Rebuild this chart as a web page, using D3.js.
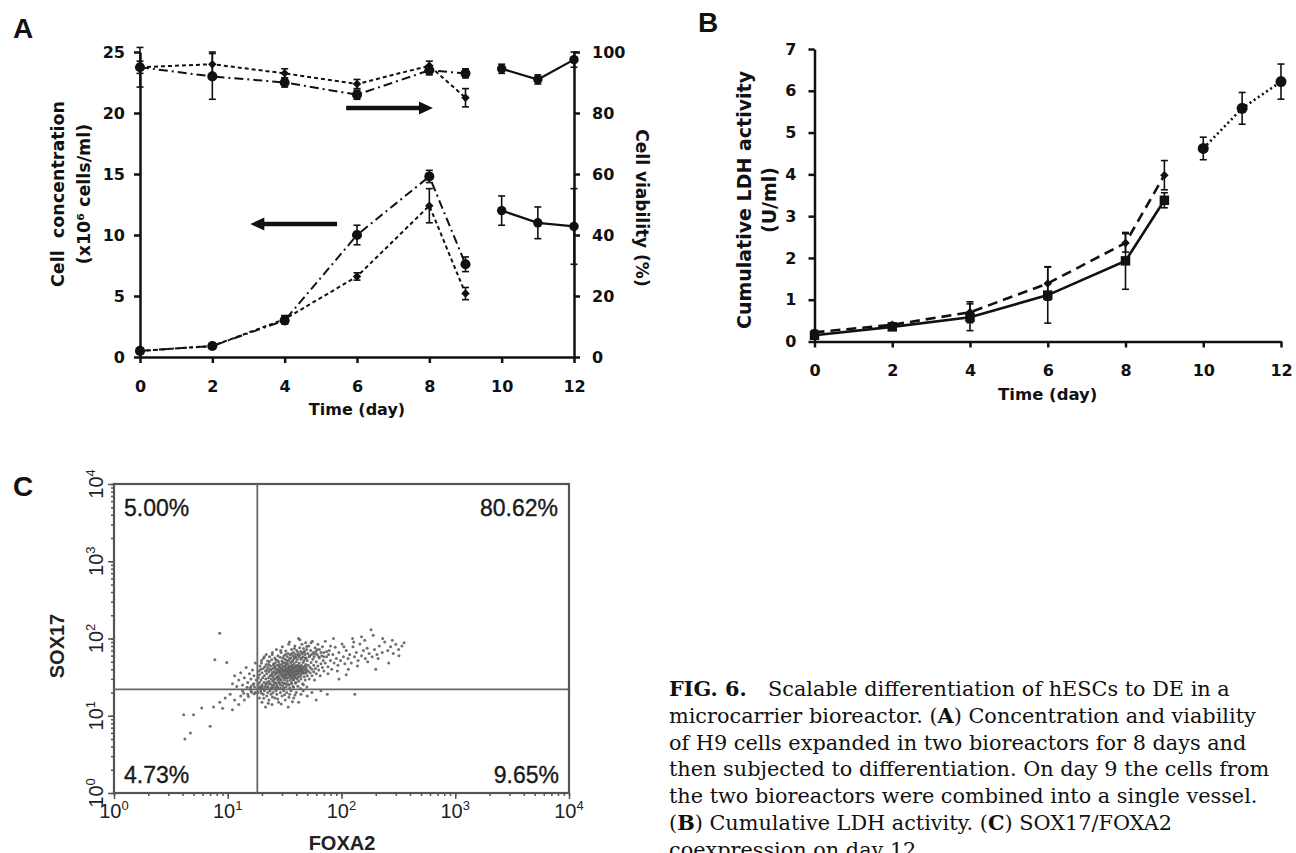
<!DOCTYPE html>
<html>
<head>
<meta charset="utf-8">
<script src="https://d3js.org/d3.v7.min.js"></script>
<style>
  body { margin: 0; background: #fff; }
  .axis path, .axis line { stroke: #111; stroke-width: 2.5; }
  .axis text { font-family: "DejaVu Sans", sans-serif; font-weight: bold; font-size: 16px; fill: #111; }
  .title { font-family: "DejaVu Sans", sans-serif; font-weight: bold; fill: #111; }
  .letter { font-family: "Liberation Sans", Arial, sans-serif; font-weight: bold; font-size: 28px; fill: #111; }
  .flow line { stroke: #555; stroke-width: 1.5; }
  .flow path.domain { display: none; }
  .logtick { font-family: "Liberation Sans Narrow", "Liberation Sans", sans-serif; font-size: 20px; fill: #222; }
  .quad { font-family: "Liberation Sans", Arial, sans-serif; font-size: 23px; fill: #1a1a1a; stroke: #1a1a1a; stroke-width: 0.35; }
  .caption { font-family: "DejaVu Serif", serif; font-size: 20.8px; fill: #111; }
</style>
</head>
<body>
<script>

// ---------- Panel A : cell concentration (left axis) and viability (right axis) ----------
var daysA = [0, 2, 4, 6, 8, 9];
var concDashDot    = [0.5, 0.9, 3.0, 10.0, 14.8, 7.6];
var concDashDotErr = [0.2, 0.2, 0.3, 0.8, 0.5, 0.6];
var concDash       = [0.5, 0.9, 3.1, 6.6, 12.4, 5.2];
var concDashErr    = [0.2, 0.2, 0.3, 0.3, 1.4, 0.5];
var viabDashDot    = [95, 92, 90, 86, 94, 93];
var viabDashDotErr = [6.5, 7.5, 1.5, 1.5, 1.5, 1.5];
var viabDash       = [95, 96, 93, 89.5, 95.5, 85];
var viabDashErr    = [2, 4, 1.5, 1.5, 1.5, 3];
var daysPooled     = [10, 11, 12];
var concPooled     = [12.0, 11.0, 10.7];
var concPooledErr  = [1.2, 1.3, 3.1];
var viabPooled     = [94.5, 91, 97.5];
var viabPooledErr  = [1.5, 1.5, 2.5];
// arrows: [from day, to day, concentration level]
var arrowsA = [[5.7, 8.1, 20.4], [5.45, 3.05, 10.9]];

var ticksConc = [0, 5, 10, 15, 20, 25];
var ticksViab = [0, 20, 40, 60, 80, 100];
var ticksDay  = [0, 2, 4, 6, 8, 10, 12];

// ---------- Panel B : cumulative LDH ----------
var daysB = [0, 2, 4, 6, 8, 9];
var ldhSolid     = [0.15, 0.35, 0.58, 1.11, 1.93, 3.38];
var ldhSolidErr  = [0.05, 0.05, 0.32, 0.67, 0.68, 0.18];
var ldhDashed    = [0.22, 0.40, 0.70, 1.39, 2.36, 3.98];
var ldhDashedErr = [0.05, 0.05, 0.25, 0.40, 0.22, 0.35];
var daysB2 = [10, 11, 12];
var ldhDotted    = [4.62, 5.58, 6.22];
var ldhDottedErr = [0.27, 0.38, 0.42];
var ticksLdh = [0, 1, 2, 3, 4, 5, 6, 7];

// ---------- Panel C : SOX17 / FOXA2 flow cytometry ----------
var decades = [1, 10, 100, 1000, 10000];
var gateFoxa2 = 18.2, gateSox17 = 22;
var quadLabels = ["5.00%", "80.62%", "4.73%", "9.65%"];
// [FOXA2, SOX17] events
var cells = [
  [18.5,25],[18.6,31],[18.8,38],[19,27],[19,34],[19.2,44],[19.5,23],[19.6,29],[19.8,52],[20,36],[20,25],[20.3,31],[20.5,41],[20.8,27],[21,33],[21,58],[21.3,24],[21.5,38],[21.6,30],[21.8,46],[22,27],[22,35],
  [22.5,42],[22.6,24],[22.8,31],[23,37],[23,28],[23.2,50],[23.5,33],[23.6,26],[23.8,44],[24,30],[24,39],[24.2,23],[24.5,35],[24.6,62],[24.8,28],[25,41],[25,32],[25.3,47],[25.5,25],[25.6,37],[25.8,30],[26,43],[26,34],[26.3,27],[26.5,53],[26.6,39],[26.8,31],[27,36],[27,24],[27.2,45],
  [27.5,29],[27.6,40],[27.8,33],[28,50],[28,27],[28.2,37],[28.5,31],[28.6,43],[28.8,35],[29,25],[29,39],[29.2,70],[29.5,29],[29.6,46],[29.8,33],[30,37],[30,41],[30.3,27],[30.5,56],[30.6,31],[30.8,44],[31,35],[31,23],[31.3,39],[31.5,48],[31.6,29],[31.8,33],[32,42],[32,37],[32.3,62],[32.5,26],[32.6,45],[32.8,31],[33,38],[33,52],[33.3,34],
  [33.5,28],[33.6,41],[33.8,47],[34,36],[34,31],[34.3,84],[34.5,39],[34.6,25],[34.8,44],[35,33],[35,55],[35.3,37],[35.5,29],[35.6,42],[35.8,49],[36,34],[36,38],[36.3,27],[36.5,64],[36.6,45],[36.8,31],[37,40],[37,36],[37.3,52],[37.5,24],[37.6,33],[37.8,43],[38,38],[38,29],[38.3,47],[38.5,35],[38.6,74],[38.8,41],[39,31],[39,57],[39.3,37],[39.5,44],[39.6,27],[39.8,34],[40,50],
  [40.5,39],[40.8,30],[41,45],[41,35],[41.5,61],[41.8,41],[42,28],[42,37],[42.5,48],[42.8,33],[43,43],[43,96],[43.5,38],[44,30],[44,54],[44.5,45],[45,35],[45,40],[45.5,26],[46,49],[46,37],[46.5,67],[47,32],[47,43],[47.5,39],[48,56],[48,29],[48.5,46],[49,36],[49,41],[49.5,79],[50,33],[50,52],
  [51,38],[51,45],[52,30],[52,58],[53,42],[53,36],[54,49],[54,88],[55,33],[55,40],[56,54],[57,37],[57,45],[58,29],[58,63],[59,41],[60,50],[60,35],[61,72],[62,44],[63,39],[64,56],[65,33],[66,47],[67,60],[68,42],[69,52],[70,38],[70,66],
  [19.5,40],[19.8,48],[20.2,22.5],[20.6,55],[21.2,43],[21.8,62],[22.2,39],[22.4,51],[22.9,46],[23.3,58],[23.7,40],[24.3,53],[24.7,66],[25.2,45],[25.9,56],[26.2,48],[26.8,72],[27.3,52],[27.6,60],[28.3,46],[28.9,57],[29.4,66],[29.9,51],[30.2,78],[30.7,49],[31.2,60],[31.9,54],[32.4,69],[32.9,48],[33.4,58],[33.9,64],[34.4,52],[34.9,90],[35.4,61],[35.9,56],[36.4,72],[36.9,50],[37.4,60],[37.9,66],[38.4,55],[38.9,80],[39.4,62],[39.9,58],[40.4,70],[40.9,54],[41.4,66],[41.9,100],[42.4,58],[42.9,76],[43.4,62],[43.9,68],[44.4,56],[44.9,84],[45.4,64],[45.9,58],[46.4,74],[46.9,52],[47.4,68],[47.9,62],[48.4,88],[48.9,56],[49.4,72],[50.5,64],[51.5,80],[52.5,60],[53.5,70],[54.5,62],[55.5,92],[56.5,66],[57.5,58],[58.5,76],[59.5,68],[61,62],[62,84],[63,58],[64,72],[66,66],[68,78],[70,58],[72,92],[74,68],[77,62],[80,80],
  [24.1,33.5],[24.9,36.5],[25.4,29.5],[26.1,41.5],[26.7,35.5],[27.4,31.5],[27.9,38.5],[28.4,42.5],[28.7,29.5],[29.3,36.5],[29.7,41.5],[30.1,33.5],[30.9,38.5],[31.4,31.5],[31.7,43.5],[32.2,34.5],[32.7,39.5],[33.2,30.5],[33.7,36.5],[34.2,42.5],[34.7,34.5],[35.2,39.5],[35.7,31.5],[36.2,44.5],[36.7,35.5],[37.2,41.5],[37.7,29.5],[38.2,37.5],[38.7,32.5],[39.2,43.5],[39.7,38.5],[40.2,34.5],[40.7,42.5],[41.2,31.5],[41.7,37.5],[42.2,44.5],[42.7,35.5],[43.2,40.5],[43.7,32.5],[44.2,38.5],[44.7,42.5],[45.2,36.5],[46.2,40.5],[47.2,35.5],[48.2,43.5],[49.2,38.5],
  [18.7,22.8],[19.3,23.5],[20.1,24.3],[20.9,22.4],[21.7,25.6],[22.3,23.1],[23.1,26.2],[23.9,22.6],[24.4,25.1],[25.1,23.4],[25.7,26.5],[26.4,22.9],[27.1,25.3],[27.7,23.2],[28.6,26.8],[29.2,22.7],[30.4,24.6],[31.5,26.1],[32.6,23.7],[33.8,25.4],[35.1,22.8],[36.4,25.9],[37.8,23.3],[39.4,26.4],[41.3,24.1],[43.6,22.6],[46.3,25.2],[49.6,23.6],
  [72,48],[74,58],[76,43],[78,70],[80,52],[82,40],[84,62],[86,48],[88,77],[90,55],[93,45],[95,66],[98,52],[101,85],[104,58],[107,47],[110,70],[114,55],[118,62],[122,48],[126,78],[130,58],[135,66],[140,52],[145,85],[150,60],[156,70],[162,55],[168,75],[175,64],[182,130],[186,58],[195,72],[205,62],[215,80],[228,66],[240,90],[255,70],[270,78],[285,64],[300,84],[318,72],[340,80],[355,88],[125,100],[160,95],
  [76,35],[85,100],[92,38],[105,78],[115,40],[128,90],[138,44],[150,105],[170,50],[190,110],[210,55],[230,100],[260,48],[280,95],[320,60],[95,30],[110,34],[200,40],
  [8.5,117],[7.7,53],[9.8,49],[11,26],[11.5,33],[12,24],[12.5,29],[13,36],[13.5,25],[14,31],[14.5,42],[15,27],[15.5,35],[16,24],[16,30],[16.5,39],[17,26],[17,33],[17.5,48],[17.8,29],
  [15.8,22.8],[16.7,25.4],[17.2,23.6],[14.8,23.4],
  [4.1,10.3],[5,10.3],[4.2,5],[4.7,6],[7,7.3],[5.9,12.6],[7.5,13],[8.5,15],[9,12.5],[9.5,17],[10.5,19],[11,12],[11.5,16],[12.5,14],[13,18],[13.5,21],[14,16],[15,19],[16,21],[17.5,20],
  [16.2,20.1],[17.1,19.2],[15.2,17.8],[13.8,19.6],
  [18.5,20],[19,17],[19.5,21],[20,15],[20.5,19],[21,21],[21.5,13],[22,18],[22.5,20],[23,16],[23.5,21],[24,19],[24.5,14],[25,20],[26,17],[26.5,21],[27,19],[28,15],[29,20],[30,18],[31,21],[32,16],[33,20],[34,13],[35,19],[36,21],[38,17],[40,20],[42,15],[44,19],[46,21],[50,18],[55,20],[60,16],[66,21],[131,19],[75,19],
  [19.8,19.5],[20.7,16.8],[22.7,14.5],[24.7,17.5],[27.5,16.5],[29.5,14.2],[31.6,18.7],[34.5,17.3],[37,15.2],[39,18.6]
];

// ---------- Caption ----------
var captionLines = [
  "Scalable differentiation of hESCs to DE in a",
  "microcarrier bioreactor. (**A**) Concentration and viability",
  "of H9 cells expanded in two bioreactors for 8 days and",
  "then subjected to differentiation. On day 9 the cells from",
  "the two bioreactors were combined into a single vessel.",
  "(**B**) Cumulative LDH activity. (**C**) SOX17/FOXA2",
  "coexpression on day 12."
];

var svg = d3.select("body").append("svg")
  .attr("width", 1296)
  .attr("height", 853);

// draws one series: line, error bars, markers
function drawSeries(g, x, y, days, vals, errs, dash, lineWidth, symbol, size, rot) {
  var pts = days.map(function(d, i) { return {day: d, v: vals[i], e: errs[i]}; });

  g.append("path")
    .datum(pts)
    .attr("fill", "none")
    .attr("stroke", "#111")
    .attr("stroke-width", lineWidth)
    .attr("stroke-dasharray", dash)
    .attr("d", d3.line()
      .x(function(d) { return x(d.day); })
      .y(function(d) { return y(d.v); }));

  var bars = g.append("g")
    .attr("stroke", "#111")
    .attr("stroke-width", 1.6)
    .selectAll("g")
    .data(pts)
    .enter().append("g");
  bars.append("line")
    .attr("x1", function(d) { return x(d.day); })
    .attr("x2", function(d) { return x(d.day); })
    .attr("y1", function(d) { return y(d.v - d.e); })
    .attr("y2", function(d) { return y(d.v + d.e); });
  bars.append("line")
    .attr("x1", function(d) { return x(d.day) - 3.5; })
    .attr("x2", function(d) { return x(d.day) + 3.5; })
    .attr("y1", function(d) { return y(d.v + d.e); })
    .attr("y2", function(d) { return y(d.v + d.e); });
  bars.append("line")
    .attr("x1", function(d) { return x(d.day) - 3.5; })
    .attr("x2", function(d) { return x(d.day) + 3.5; })
    .attr("y1", function(d) { return y(d.v - d.e); })
    .attr("y2", function(d) { return y(d.v - d.e); });

  g.append("g")
    .selectAll("path")
    .data(pts)
    .enter().append("path")
    .attr("transform", function(d) { return "translate(" + x(d.day) + "," + y(d.v) + ") rotate(" + rot + ")"; })
    .attr("d", d3.symbol().type(symbol).size(size))
    .attr("fill", "#111");
}

// ================= Panel A =================
var xA = d3.scaleLinear().domain([0, 12]).range([140, 574]);
var yConc = d3.scaleLinear().domain([0, 25]).range([357, 52]);
var yViab = d3.scaleLinear().domain([0, 100]).range([357, 52]);

var gA = svg.append("g");

gA.append("g").attr("class", "axis")
  .attr("transform", "translate(" + xA(0) + ",0)")
  .call(d3.axisLeft(yConc).tickValues(ticksConc).tickSize(6).tickSizeOuter(0).tickPadding(9).tickFormat(d3.format("d")));

gA.append("g").attr("class", "axis")
  .attr("transform", "translate(" + xA(12) + ",0)")
  .call(d3.axisRight(yViab).tickValues(ticksViab).tickSize(6).tickSizeOuter(0).tickPadding(12).tickFormat(d3.format("d")));

gA.append("g").attr("class", "axis")
  .attr("transform", "translate(0," + yConc(0) + ")")
  .call(d3.axisBottom(xA).tickValues(ticksDay).tickSize(6).tickSizeOuter(0).tickPadding(18).tickFormat(d3.format("d")));

// viability
drawSeries(gA, xA, yViab, daysA, viabDash, viabDashErr, "4,3", 2, d3.symbolSquare, 36, 45);
drawSeries(gA, xA, yViab, daysA, viabDashDot, viabDashDotErr, "9,4,2,4", 2, d3.symbolCircle, 80, 0);
drawSeries(gA, xA, yViab, daysPooled, viabPooled, viabPooledErr, null, 2.2, d3.symbolCircle, 70, 0);
// concentration
drawSeries(gA, xA, yConc, daysA, concDash, concDashErr, "4,3", 2, d3.symbolSquare, 36, 45);
drawSeries(gA, xA, yConc, daysA, concDashDot, concDashDotErr, "9,4,2,4", 2, d3.symbolCircle, 80, 0);
drawSeries(gA, xA, yConc, daysPooled, concPooled, concPooledErr, null, 2.2, d3.symbolCircle, 70, 0);

// arrows pointing to each axis
arrowsA.forEach(function(a) {
  var x1 = xA(a[0]), x2 = xA(a[1]), yy = yConc(a[2]);
  var dir = x2 > x1 ? 1 : -1;
  gA.append("line")
    .attr("x1", x1).attr("x2", x2 - dir * 10)
    .attr("y1", yy).attr("y2", yy)
    .attr("stroke", "#111").attr("stroke-width", 4.5);
  gA.append("path")
    .attr("d", "M" + x2 + "," + yy + "L" + (x2 - dir * 14) + "," + (yy - 6.5) + "L" + (x2 - dir * 14) + "," + (yy + 6.5) + "Z")
    .attr("fill", "#111");
});

gA.append("text").attr("class", "title")
  .attr("transform", "translate(64,194) rotate(-90)")
  .attr("text-anchor", "middle").style("font-size", "17.5px")
  .text("Cell\u00a0 concentration");
gA.append("text").attr("class", "title")
  .attr("transform", "translate(90,194) rotate(-90)")
  .attr("text-anchor", "middle").style("font-size", "17.5px")
  .text("(x10\u2076 cells/ml)");
gA.append("text").attr("class", "title")
  .attr("transform", "translate(636,208) rotate(90)")
  .attr("text-anchor", "middle").style("font-size", "17px")
  .text("Cell viability (%)");
gA.append("text").attr("class", "title")
  .attr("x", (xA(0) + xA(12)) / 2).attr("y", 415)
  .attr("text-anchor", "middle").style("font-size", "16px")
  .text("Time (day)");
svg.append("text").attr("class", "letter").attr("x", 13).attr("y", 38).text("A");

// ================= Panel B =================
var xB = d3.scaleLinear().domain([0, 12]).range([814.5, 1281]);
var yB = d3.scaleLinear().domain([0, 7]).range([341.5, 49]);

var gB = svg.append("g");

gB.append("g").attr("class", "axis")
  .attr("transform", "translate(" + xB(0) + ",0)")
  .call(d3.axisLeft(yB).tickValues(ticksLdh).tickSize(6).tickSizeOuter(0).tickPadding(12).tickFormat(d3.format("d")));

gB.append("g").attr("class", "axis")
  .attr("transform", "translate(0," + yB(0) + ")")
  .call(d3.axisBottom(xB).tickValues(ticksDay).tickSize(6).tickSizeOuter(0).tickPadding(17).tickFormat(d3.format("d")));

drawSeries(gB, xB, yB, daysB, ldhDashed, ldhDashedErr, "10,6", 2.6, d3.symbolSquare, 36, 45);
drawSeries(gB, xB, yB, daysB, ldhSolid, ldhSolidErr, null, 2.6, d3.symbolSquare, 90, 0);
drawSeries(gB, xB, yB, daysB2, ldhDotted, ldhDottedErr, "2,3", 2.6, d3.symbolCircle, 95, 0);

gB.append("text").attr("class", "title")
  .attr("transform", "translate(751,200) rotate(-90)")
  .attr("text-anchor", "middle").style("font-size", "19px")
  .text("Cumulative LDH activity");
gB.append("text").attr("class", "title")
  .attr("transform", "translate(776,200) rotate(-90)")
  .attr("text-anchor", "middle").style("font-size", "19px")
  .text("(U/ml)");
gB.append("text").attr("class", "title")
  .attr("x", (xB(0) + xB(12)) / 2).attr("y", 400)
  .attr("text-anchor", "middle").style("font-size", "16.5px")
  .text("Time (day)");
svg.append("text").attr("class", "letter").attr("x", 698).attr("y", 32).text("B");

// ================= Panel C =================
var xC = d3.scaleLog().domain([1, 10000]).range([114, 569]);
var yC = d3.scaleLog().domain([1, 10000]).range([793, 484]);

var gC = svg.append("g").attr("class", "flow");

// events
gC.append("g")
  .selectAll("circle")
  .data(cells)
  .enter().append("circle")
  .attr("cx", function(d) { return xC(d[0]); })
  .attr("cy", function(d) { return yC(d[1]); })
  .attr("r", 1.5)
  .attr("fill", "#606060")
  .attr("fill-opacity", 0.9);

// minor and major ticks
gC.append("g")
  .attr("transform", "translate(0," + yC(1) + ")")
  .call(d3.axisBottom(xC).tickValues(xC.ticks()).tickSize(3).tickFormat(""));
gC.append("g")
  .attr("transform", "translate(0," + yC(1) + ")")
  .call(d3.axisBottom(xC).tickValues(decades).tickSize(6).tickFormat(""));
gC.append("g")
  .attr("transform", "translate(" + xC(1) + ",0)")
  .call(d3.axisLeft(yC).tickValues(yC.ticks()).tickSize(3).tickFormat(""));
gC.append("g")
  .attr("transform", "translate(" + xC(1) + ",0)")
  .call(d3.axisLeft(yC).tickValues(decades).tickSize(6).tickFormat(""));

// frame and quadrant gates
gC.append("rect")
  .attr("x", xC(1)).attr("y", yC(10000))
  .attr("width", xC(10000) - xC(1)).attr("height", yC(1) - yC(10000))
  .attr("fill", "none").attr("stroke", "#555").attr("stroke-width", 2.2);
gC.append("line")
  .attr("x1", xC(gateFoxa2)).attr("x2", xC(gateFoxa2))
  .attr("y1", yC(1)).attr("y2", yC(10000))
  .style("stroke", "#666").style("stroke-width", 1.8);
gC.append("line")
  .attr("x1", xC(1)).attr("x2", xC(10000))
  .attr("y1", yC(gateSox17)).attr("y2", yC(gateSox17))
  .style("stroke", "#666").style("stroke-width", 1.8);

// decade labels
var xLab = gC.append("g").selectAll("text")
  .data(decades).enter().append("text")
  .attr("class", "logtick")
  .attr("x", function(d) { return xC(d); })
  .attr("y", 818)
  .attr("text-anchor", "middle");
xLab.append("tspan").text("10");
xLab.append("tspan").attr("dy", -8).style("font-size", "13px")
  .text(function(d) { return Math.round(Math.log10(d)); });

var yLab = gC.append("g").selectAll("text")
  .data(decades).enter().append("text")
  .attr("class", "logtick")
  .attr("transform", function(d) { return "translate(103," + yC(d) + ") rotate(-90)"; })
  .attr("text-anchor", "middle");
yLab.append("tspan").text("10");
yLab.append("tspan").attr("dy", -8).style("font-size", "13px")
  .text(function(d) { return Math.round(Math.log10(d)); });

// quadrant percentages
gC.append("text").attr("class", "quad").attr("x", 124).attr("y", 516).text(quadLabels[0]);
gC.append("text").attr("class", "quad").attr("x", 558).attr("y", 516).attr("text-anchor", "end").text(quadLabels[1]);
gC.append("text").attr("class", "quad").attr("x", 124).attr("y", 783).text(quadLabels[2]);
gC.append("text").attr("class", "quad").attr("x", 559).attr("y", 783).attr("text-anchor", "end").text(quadLabels[3]);

gC.append("text")
  .attr("transform", "translate(64,646) rotate(-90)")
  .attr("text-anchor", "middle")
  .style("font-family", "'Liberation Sans', Arial, sans-serif")
  .style("font-weight", "bold").style("font-size", "20px").style("fill", "#222")
  .text("SOX17");
gC.append("text")
  .attr("x", 342).attr("y", 850)
  .attr("text-anchor", "middle")
  .style("font-family", "'Liberation Sans', Arial, sans-serif")
  .style("font-weight", "bold").style("font-size", "20px").style("fill", "#222")
  .text("FOXA2");
svg.append("text").attr("class", "letter").attr("x", 13).attr("y", 496).text("C");

// ================= Caption =================
var cap = svg.append("g");
captionLines.forEach(function(line, i) {
  var t = cap.append("text").attr("class", "caption")
    .attr("x", i === 0 ? 768 : 669)
    .attr("y", 696 + i * 26.8);
  line.split(/(\*\*[^*]+\*\*)/).forEach(function(seg) {
    if (!seg) return;
    if (seg.indexOf("**") === 0) {
      t.append("tspan").style("font-weight", "bold").text(seg.replace(/\*/g, ""));
    } else {
      t.append("tspan").text(seg);
    }
  });
});
cap.append("text").attr("class", "caption")
  .attr("x", 669).attr("y", 696)
  .style("font-weight", "bold")
  .text("FIG. 6.");

</script>
</body>
</html>
